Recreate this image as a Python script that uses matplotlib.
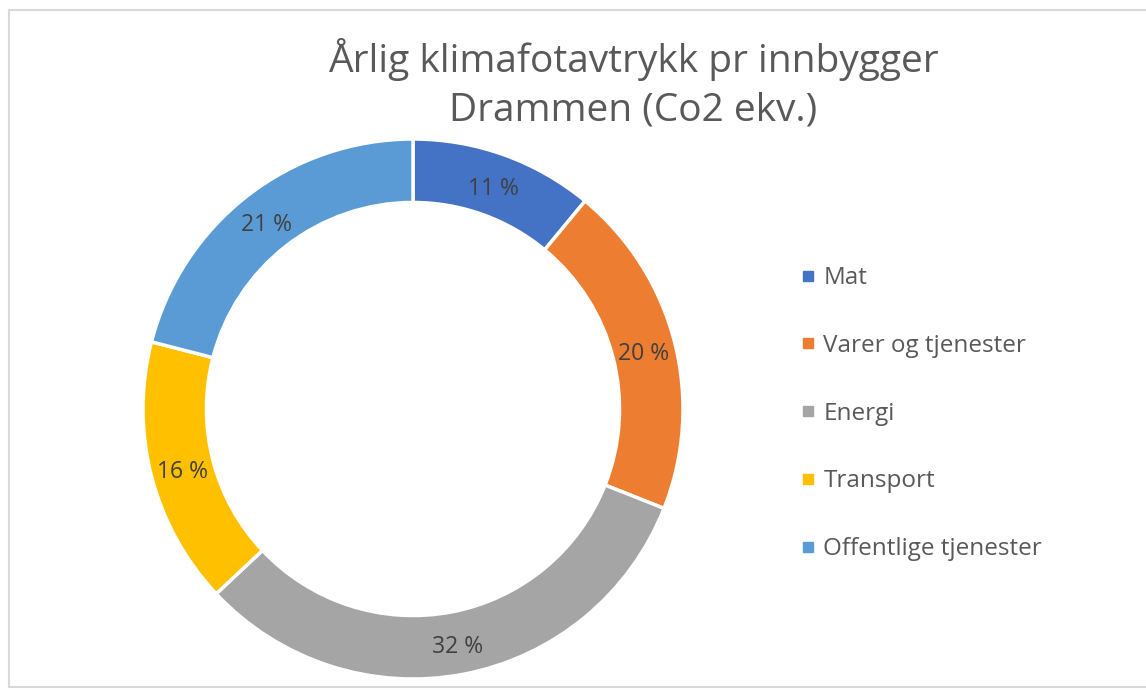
import matplotlib
matplotlib.use("Agg")
import matplotlib.pyplot as plt
from matplotlib.lines import Line2D
import numpy as np

categories = ["Mat", "Varer og tjenester", "Energi", "Transport", "Offentlige tjenester"]
values = [11, 20, 32, 16, 21]
colors = ["#4472C4", "#ED7D31", "#A5A5A5", "#FFC000", "#5B9BD5"]
title = "Årlig klimafotavtrykk pr innbygger\nDrammen (Co2 ekv.)"

plt.rcParams['font.family'] = ['Open Sans', 'DejaVu Sans']

W, H = 1146, 690
fig = plt.figure(figsize=(W / 100, H / 100), dpi=100)
fig.patch.set_facecolor("white")

cx, cy, R = 413, 409, 270
ax = fig.add_axes([(cx - R) / W, (H - cy - R) / H, 2 * R / W, 2 * R / H])

width = 0.235
wedges, texts = ax.pie(values, colors=colors, startangle=90, counterclock=False,
                       radius=1, wedgeprops=dict(width=width, edgecolor="white", linewidth=2.5))
ax.set_xlim(-1, 1)
ax.set_ylim(-1, 1)
ax.set_aspect("equal")
ax.axis("off")

ang = 90.0
rmid = 1 - width / 2
total = sum(values)
for v in values:
    a = np.deg2rad(ang - v / total * 360 / 2)
    ax.text(rmid * np.cos(a), rmid * np.sin(a) - 0.015, f"{v} %", ha="center", va="center",
            fontsize=16.5, color="#404040")
    ang -= v / total * 360

fig.text(633 / W, 1 - 84 / H, title, ha="center", va="center", fontsize=28,
         color="#595959", linespacing=1.36)

handles = [Line2D([0], [0], marker="s", linestyle="none", markersize=7.5,
                  markerfacecolor=c, markeredgecolor=c) for c in colors]
leg = fig.legend(handles, categories, loc="upper left", bbox_to_anchor=(787 / W, 1 - 254 / H),
                 frameon=False, fontsize=17.5, labelspacing=1.8, handlelength=0.7,
                 handletextpad=0.3, borderpad=0)
for t in leg.get_texts():
    t.set_color("#595959")

# border
bc = "#d9d9d9"
fig.add_artist(Line2D([9 / W, 1], [1 - 10 / H, 1 - 10 / H], color=bc, lw=1.5))
fig.add_artist(Line2D([9 / W, 9 / W], [1 - 10 / H, 1 - 687 / H], color=bc, lw=1.5))
fig.add_artist(Line2D([9 / W, 1], [1 - 687 / H, 1 - 687 / H], color=bc, lw=1.5))

fig.savefig("out.png", dpi=100)
